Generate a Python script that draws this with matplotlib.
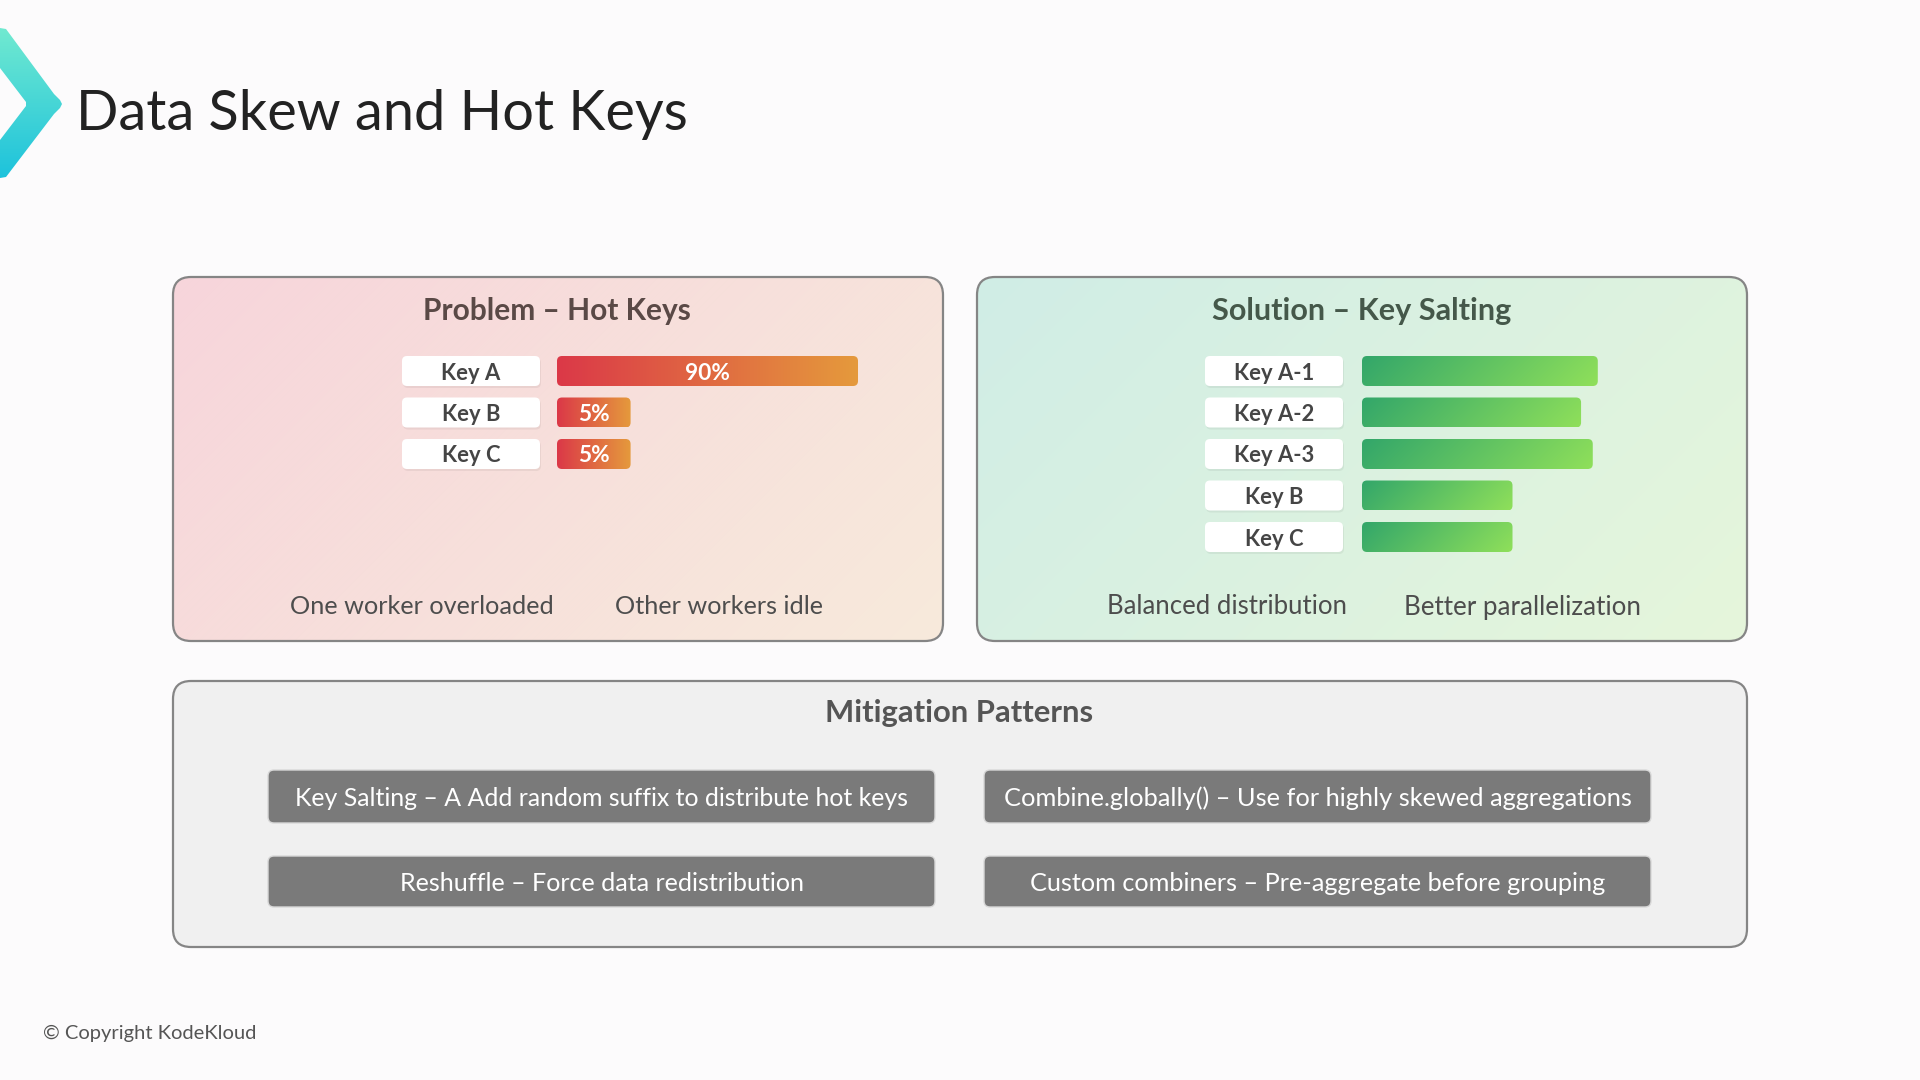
import numpy as np
import matplotlib
matplotlib.use("Agg")
import matplotlib.pyplot as plt
from matplotlib.patches import FancyBboxPatch, Polygon
from matplotlib.colors import to_rgb

# ---------------- data ----------------
title = "Data Skew and Hot Keys"
problem_title = "Problem – Hot Keys"
problem_keys = ["Key A", "Key B", "Key C"]
problem_share = [90, 5, 5]                 # labelled share (%)
problem_bar_len = [90, 22, 22]             # drawn bar length (5% bars have a minimum width)
problem_notes = ["One worker overloaded", "Other workers idle"]

solution_title = "Solution – Key Salting"
solution_keys = ["Key A-1", "Key A-2", "Key A-3", "Key B", "Key C"]
solution_load = [70.5, 65.5, 69, 45, 45]
solution_notes = ["Balanced distribution", "Better parallelization"]

mitigation_title = "Mitigation Patterns"
mitigation_items = [
    "Key Salting – A Add random suffix to distribute hot keys",
    "Combine.globally() – Use for highly skewed aggregations",
    "Reshuffle – Force data redistribution",
    "Custom combiners – Pre-aggregate before grouping",
]
copyright_text = "© Copyright KodeKloud"

# ---------------- setup ----------------
FONT = ["Lato", "DejaVu Sans"]
plt.rcParams["font.family"] = FONT
W, H = 1920, 1080
BG = "#fcfbfc"
fig = plt.figure(figsize=(19.2, 10.8), dpi=100, facecolor=BG)
bg = fig.add_axes([0, 0, 1, 1])
bg.set_facecolor(BG)
bg.axis("off")
DY = 2  # text baseline nudge


def reset():
    bg.set_xlim(0, W)
    bg.set_ylim(H, 0)


reset()
renderer = fig.canvas.get_renderer()


def frac(x, y, w, h):
    return [x / W, 1 - (y + h) / H, w / W, h / H]


def fit_text(x, y, s, target_w, base=20, scale=1.0, **kw):
    t = bg.text(x, y + DY, s, fontsize=base, **kw)
    w = t.get_window_extent(renderer).width
    t.set_fontsize(base * target_w / w * scale)
    return t


def fit_size(s, target_w, base=20, **kw):
    t = bg.text(0, 0, s, fontsize=base, **kw)
    w = t.get_window_extent(renderer).width
    t.remove()
    return base * target_w / w


def gradient_patch(x, y, w, h, c0, c1, r, mode="h", zorder=1, ec="none", lw=0):
    patch = FancyBboxPatch((x, y), w, h, boxstyle=f"round,pad=0,rounding_size={r}",
                           fc="none", ec=ec, lw=lw, zorder=zorder + 0.1)
    bg.add_patch(patch)
    nx = max(int(w), 2)
    ny = max(int(h), 2)
    X, Y = np.meshgrid(np.arange(nx) + 0.5, np.arange(ny) + 0.5)
    if mode == "h":
        t = X / nx
    elif mode == "v":
        t = Y / ny
    else:
        t = (X + Y) / (nx + ny)
    img = (1 - t)[..., None] * np.array(to_rgb(c0)) + t[..., None] * np.array(to_rgb(c1))
    im = bg.imshow(img, extent=(x, x + w, y + h, y), origin="upper", zorder=zorder,
                   interpolation="bilinear", aspect="auto")
    im.set_clip_path(patch)
    reset()
    return patch


# ---------------- logo ----------------
logo = Polygon([(0, 28), (6, 29), (54, 94), (60, 100), (62, 104), (60, 108), (54, 114),
                (6, 177), (0, 178), (0, 140), (26, 106), (26, 102), (0, 68)],
               closed=True, fc="none", ec="none")
bg.add_patch(logo)
yy = np.linspace(0, 1, 200)[:, None, None]
logo_img = (1 - yy) * np.array(to_rgb("#72ead0")) + yy * np.array(to_rgb("#1cc2dc"))
logo_img = np.repeat(logo_img, 2, axis=1)
im = bg.imshow(logo_img, extent=(0, 64, 180, 26), origin="upper", aspect="auto", zorder=2)
im.set_clip_path(logo)
reset()

fit_text(76, 112, title, 611, ha="left", va="center", color="#222222")

# ---------------- panels ----------------
BORDER = "#858585"
gradient_patch(173, 277, 770, 364, "#f7d5db", "#f7eadb", 18, mode="d", zorder=1,
               ec=BORDER, lw=1.6)
gradient_patch(977, 277, 770, 364, "#d0ede6", "#e6f6db", 18, mode="d", zorder=1,
               ec=BORDER, lw=1.6)
bg.add_patch(FancyBboxPatch((173, 681), 1574, 266, boxstyle="round,pad=0,rounding_size=18",
                            fc="#f0f0f0", ec=BORDER, lw=1.6, zorder=1))

fit_text(557, 309, problem_title, 260, scale=1.03, ha="center", va="center", weight="bold", color="#5a4946", zorder=5)
fit_text(1362, 309, solution_title, 291, scale=1.03, ha="center", va="center", weight="bold", color="#45584a", zorder=5)
fit_text(959, 711, mitigation_title, 261, scale=1.03, ha="center", va="center", weight="bold", color="#555555", zorder=5)

note_w = {problem_notes[0]: 257, problem_notes[1]: 203,
          solution_notes[0]: 233, solution_notes[1]: 231}
for s, x in zip(problem_notes + solution_notes, [422, 719, 1227, 1523]):
    fit_text(x, 605, s, note_w[s], scale=1.03, ha="center", va="center", color="#4d4d4d", zorder=5)

key_fs = fit_size("Key A-1", 73, weight="bold") * 1.1
pct_fs = fit_size("90%", 40, weight="bold") * 1.12

STEP = 41.5
BAR_H = 30


def bar_panel(keys, lengths, x0, label_left, label_right, row0, right, c0, c1, mode, labels=None):
    n = len(keys)
    k = 301 / 90.0
    left = label_left - 10
    ax = fig.add_axes(frac(left, row0 - STEP / 2, right - left, STEP * n))
    ax.set_xlim((left - x0) / k, (right - x0) / k)
    ax.set_ylim(n - 0.5, -0.5)
    ax.axis("off")
    ax.patch.set_alpha(0)
    bars = ax.barh(np.arange(n), lengths, height=BAR_H / STEP, left=0, color="none")
    for i, b in enumerate(bars):
        inv = bg.transData.inverted()
        bb = b.get_bbox()
        pts = inv.transform(ax.transData.transform([[bb.x0, bb.y0], [bb.x1, bb.y1]]))
        bx0, bx1 = sorted(pts[:, 0])
        by0, by1 = sorted(pts[:, 1])
        gradient_patch(bx0, by0, bx1 - bx0, by1 - by0, c0, c1, 5, mode=mode, zorder=3)
        cy = (by0 + by1) / 2 + DY
        # key label box
        bg.add_patch(FancyBboxPatch((label_left + 1, by0 + 2), label_right - label_left, by1 - by0,
                                    boxstyle="round,pad=0,rounding_size=5", fc="#000000",
                                    alpha=0.05, ec="none", zorder=3))
        bg.add_patch(FancyBboxPatch((label_left, by0), label_right - label_left, by1 - by0,
                                    boxstyle="round,pad=0,rounding_size=5", fc="#ffffff",
                                    ec="none", zorder=4))
        bg.text((label_left + label_right) / 2, cy, keys[i], ha="center", va="center",
                fontsize=key_fs, weight="bold", color="#454545", zorder=5)
        if labels is not None:
            bg.text((bx0 + bx1) / 2, cy, f"{labels[i]}%", ha="center", va="center",
                    fontsize=pct_fs, weight="bold", color="white", zorder=5)
    return ax


bar_panel(problem_keys, problem_bar_len, 557, 402, 540, 371, 900,
          "#db3848", "#e59a3c", "h", labels=problem_share)
bar_panel(solution_keys, solution_load, 1362, 1205, 1343, 371, 1700,
          "#32a66a", "#90e05a", "d")

# ---------------- mitigation buttons ----------------
btn_x = [268, 984, 268, 984]
btn_y = [770, 770, 856, 856]
btn_w = 667
btn_h = [53, 53, 51, 51]
txt_w = [604, 617, 399, 566]
for s, x, y, h, tw in zip(mitigation_items, btn_x, btn_y, btn_h, txt_w):
    bg.add_patch(FancyBboxPatch((x, y), btn_w, h, boxstyle="round,pad=0,rounding_size=6",
                                fc="#7a7a7a", ec="#d8d8d8", lw=1.0, zorder=3))
    fit_text(x + btn_w / 2, y + h / 2, s, tw, scale=1.02, ha="center", va="center", color="white", zorder=5)

fit_text(43, 1031, copyright_text, 214, ha="left", va="center", color="#555555")

reset()
fig.savefig("out.png", dpi=100, facecolor=fig.get_facecolor())
